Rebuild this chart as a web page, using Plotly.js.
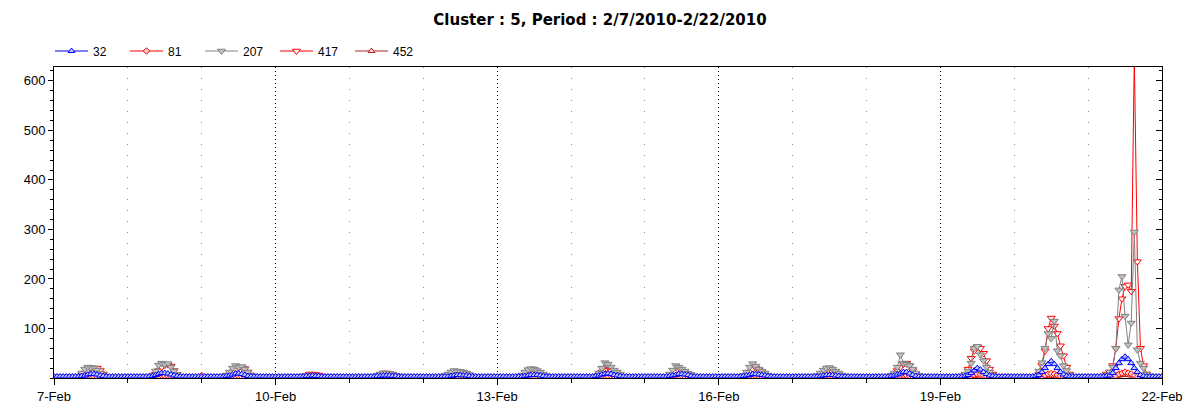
<!DOCTYPE html>
<html>
<head>
<meta charset="utf-8">
<script src="https://cdn.plot.ly/plotly-3.0.1.min.js"></script>
<style>html,body{margin:0;padding:0;background:#fff;}#chart{width:1200px;height:420px;}</style>
</head>
<body>
<div id="chart"></div>
<script>
// Hourly readings, 7-Feb-2010 00:00 through 22-Feb-2010 00:00 (one line per day)
var startDate = "2010-02-07";
var seriesNames = ["32", "81", "207", "417", "452"];

var s32 = [
3,3,3,3,3,3,3,3,3,4,5,7,8,8,7,5,4,3,3,3,3,3,3,3,
3,3,3,3,3,3,3,3,4,6,8,10,10,9,7,5,4,3,3,3,3,3,3,3,
3,3,3,3,3,3,3,3,4,5,7,9,9,8,6,4,3,3,3,3,3,3,3,3,
3,3,3,3,3,3,3,3,3,3,4,4,5,4,4,3,3,3,3,3,3,3,3,3,
3,3,3,3,3,3,3,3,3,4,4,5,5,5,4,4,3,3,3,3,3,3,3,3,
3,3,3,3,3,3,3,3,3,4,5,6,6,5,5,4,3,3,3,3,3,3,3,3,
3,3,3,3,3,3,3,3,3,4,5,6,6,6,5,4,3,3,3,3,3,3,3,3,
3,3,3,3,3,3,3,3,4,5,7,8,9,8,6,5,4,3,3,3,3,3,3,3,
3,3,3,3,3,3,3,3,4,5,6,8,8,7,6,4,3,3,3,3,3,3,3,3,
3,3,3,3,3,3,3,3,4,5,6,8,8,7,6,5,4,3,3,3,3,3,3,3,
3,3,3,3,3,3,3,3,3,4,5,6,6,6,5,4,3,3,3,3,3,3,3,3,
3,3,3,3,3,3,3,3,4,5,7,9,12,12,9,6,4,3,3,3,3,3,3,3,
3,3,3,3,3,3,3,3,4,6,10,15,20,17,12,8,5,4,3,3,3,3,3,3,
3,3,3,3,3,3,3,4,6,12,20,28,34,28,20,12,7,4,3,3,3,3,3,3,
3,3,3,3,3,3,4,5,10,20,30,38,43,38,30,20,12,6,4,3,3,3,3,3,
3];

var s81 = [
1,1,1,1,1,1,1,1,2,3,4,4,4,3,3,2,1,1,1,1,1,1,1,1,
1,1,1,1,1,1,1,1,2,3,4,5,4,4,3,2,1,1,1,1,1,1,1,1,
5,1,1,1,1,1,1,1,2,3,4,4,4,3,2,2,1,1,1,1,1,1,1,1,
1,1,1,1,1,1,1,1,1,2,2,3,3,2,2,1,1,1,1,1,1,1,1,1,
1,1,1,1,1,1,1,1,1,2,3,3,3,3,2,2,1,1,1,1,1,1,1,1,
1,1,1,1,1,1,1,1,2,3,3,4,4,3,2,2,1,1,1,1,1,1,1,1,
1,1,1,1,1,1,1,1,2,2,3,3,3,3,2,2,1,1,1,1,1,1,1,1,
1,1,1,1,1,1,1,1,2,3,4,5,4,4,3,2,1,1,1,1,1,1,1,1,
1,1,1,1,1,1,1,1,2,3,4,4,4,3,3,2,1,1,1,1,1,1,1,1,
1,1,1,1,1,1,1,1,2,3,4,5,5,4,3,2,1,1,1,1,1,1,1,1,
1,1,1,1,1,1,1,1,2,2,3,4,4,3,2,2,1,1,1,1,1,1,1,1,
1,1,1,1,1,1,1,1,2,3,4,5,6,5,4,3,2,1,1,1,1,1,1,1,
1,1,1,1,1,1,1,1,2,3,5,7,8,7,5,3,2,1,1,1,1,1,1,1,
1,1,1,1,1,1,1,1,2,4,6,8,9,8,6,4,2,1,1,1,1,1,1,1,
1,1,1,1,1,1,1,2,3,5,8,10,12,10,8,5,3,2,1,1,1,1,1,1,
1];

var s207 = [
2,2,2,2,2,2,2,2,4,10,18,22,21,20,16,10,5,3,2,2,2,2,2,2,
2,2,2,2,2,2,2,3,6,14,26,30,28,29,22,14,7,3,2,2,2,2,2,2,
2,2,2,2,2,2,2,3,6,12,20,25,22,23,18,12,6,3,2,2,2,2,2,2,
2,2,2,2,2,2,2,2,3,4,5,6,6,5,4,3,3,2,2,2,2,2,2,2,
2,2,2,2,2,2,2,2,3,5,8,10,10,9,8,6,4,3,2,2,2,2,2,2,
2,2,2,2,2,2,3,5,8,12,15,14,13,12,10,7,4,3,2,2,2,2,2,2,
2,2,2,2,2,2,2,3,6,12,17,19,18,15,12,8,5,3,2,2,2,2,2,2,
2,2,2,2,2,2,2,2,4,10,20,31,28,22,16,12,8,4,2,2,2,2,2,2,
2,2,2,2,2,2,2,3,8,16,25,22,18,14,10,7,4,2,2,2,2,2,2,2,
2,2,2,2,2,2,2,2,5,12,22,29,24,18,14,10,6,3,2,2,2,2,2,2,
2,2,2,2,2,2,2,2,5,10,16,20,21,18,14,10,6,3,2,2,2,2,2,2,
2,2,2,2,2,2,2,2,5,10,22,47,30,28,25,18,10,5,2,2,2,2,2,2,
2,2,2,2,2,2,2,3,8,14,30,60,64,47,35,22,12,6,3,2,2,2,2,2,
2,2,2,2,2,2,2,4,14,31,60,90,80,115,55,45,25,15,6,3,2,2,2,2,
2,2,2,2,2,4,6,12,22,60,178,205,125,67,111,295,57,30,20,8,4,2,2,2,
2];

var s417 = [
2,2,2,2,2,2,2,2,3,5,10,15,19,20,20,15,8,3,2,2,2,2,2,2,
2,2,2,2,2,2,2,2,4,8,15,22,26,27,24,15,7,3,2,2,2,2,2,2,
2,2,2,2,2,2,2,2,3,6,12,18,21,22,19,12,6,3,2,2,2,2,2,2,
2,2,2,2,2,2,2,2,2,3,5,8,8,7,6,4,3,2,2,2,2,2,2,2,
2,2,2,2,2,2,2,2,3,4,7,10,10,9,7,5,3,2,2,2,2,2,2,2,
2,2,2,2,2,2,2,2,3,5,8,11,12,11,8,5,3,2,2,2,2,2,2,2,
2,2,2,2,2,2,2,2,3,4,6,8,10,9,7,5,3,2,2,2,2,2,2,2,
2,2,2,2,2,2,2,2,3,6,12,18,16,14,10,6,3,2,2,2,2,2,2,2,
2,2,2,2,2,2,2,2,3,6,12,15,13,10,7,4,3,2,2,2,2,2,2,2,
2,2,2,2,2,2,2,2,3,6,12,18,20,16,11,6,3,2,2,2,2,2,2,2,
2,2,2,2,2,2,2,2,3,5,9,13,14,12,9,5,3,2,2,2,2,2,2,2,
2,2,2,2,2,2,2,2,3,6,15,22,28,30,25,15,8,4,2,2,2,2,2,2,
2,2,2,2,2,2,2,3,6,18,40,55,62,60,50,35,18,8,3,2,2,2,2,2,
2,2,2,2,2,2,2,3,8,25,55,100,121,105,90,65,45,22,8,3,2,2,2,2,
2,2,2,2,2,4,8,12,25,60,120,160,185,188,175,650,235,60,25,8,4,2,2,2,
2];

var s452 = [
1,1,1,1,1,1,1,1,1,2,2,2,2,2,2,1,1,1,1,1,1,1,1,1,
1,1,1,1,1,1,1,1,1,2,2,3,2,2,2,1,1,1,1,1,1,1,1,1,
1,1,1,1,1,1,1,1,1,2,2,2,2,2,1,1,1,1,1,1,1,1,1,1,
1,1,1,1,1,1,1,1,1,1,1,2,2,1,1,1,1,1,1,1,1,1,1,1,
1,1,1,1,1,1,1,1,1,1,2,2,2,2,1,1,1,1,1,1,1,1,1,1,
1,1,1,1,1,1,1,1,1,2,2,2,2,2,1,1,1,1,1,1,1,1,1,1,
1,1,1,1,1,1,1,1,1,1,2,2,2,2,1,1,1,1,1,1,1,1,1,1,
1,1,1,1,1,1,1,1,1,2,2,3,2,2,2,1,1,1,1,1,1,1,1,1,
1,1,1,1,1,1,1,1,1,2,2,2,2,2,1,1,1,1,1,1,1,1,1,1,
1,1,1,1,1,1,1,1,1,2,2,3,2,2,1,1,1,1,1,1,1,1,1,1,
1,1,1,1,1,1,1,1,1,1,2,2,2,2,1,1,1,1,1,1,1,1,1,1,
1,1,1,1,1,1,1,1,1,2,2,3,3,2,2,1,1,1,1,1,1,1,1,1,
1,1,1,1,1,1,1,1,2,2,3,4,4,3,2,2,1,1,1,1,1,1,1,1,
1,1,1,1,1,1,1,1,2,3,4,5,5,4,3,2,1,1,1,1,1,1,1,1,
1,1,1,1,1,1,1,2,3,4,5,6,7,6,5,3,2,1,1,1,1,1,1,1,
1];

var yTickVals = [100, 200, 300, 400, 500, 600];

// hourly time stamps
function hourlyTimes(start, n) {
  var t0 = Date.parse(start + "T00:00:00Z");
  var out = [];
  for (var i = 0; i < n; i++) {
    var d = new Date(t0 + i * 3600000);
    out.push(d.toISOString().slice(0, 16).replace("T", " "));
  }
  return out;
}
var times = hourlyTimes(startDate, s32.length);

var styles = {
  "32":  {line: "#0000ff", sym: "triangle-up",   fill: "#b8c8ff", outline: "#0000ff", size: 6},
  "81":  {line: "#ff0000", sym: "diamond",       fill: "#ffd0d0", outline: "#ff0000", size: 5},
  "207": {line: "#808080", sym: "triangle-down", fill: "#c0c0c0", outline: "#808080", size: 7},
  "417": {line: "#ff0000", sym: "triangle-down", fill: "#ffffff", outline: "#ff0000", size: 7},
  "452": {line: "#b22222", sym: "triangle-up",   fill: "#ffd8d8", outline: "#b22222", size: 6}
};
var values = {"32": s32, "81": s81, "207": s207, "417": s417, "452": s452};
var drawOrder = ["452", "417", "207", "81", "32"];

var traces = drawOrder.map(function (name) {
  var st = styles[name];
  return {
    type: "scatter", mode: "lines+markers", name: name,
    x: times, y: values[name],
    legendrank: seriesNames.indexOf(name) + 1,
    line: {color: st.line, width: 1},
    marker: {symbol: st.sym, size: st.size, color: st.fill, line: {color: st.outline, width: 1}},
    cliponaxis: true
  };
});
// right-hand axis ticks (inside) carried by an invisible companion trace
traces.push({type: "scatter", mode: "none", x: [times[0]], y: [0], yaxis: "y2", showlegend: false, hoverinfo: "skip"});

var DAY = 86400000;
var layout = {
  width: 1200, height: 420,
  margin: {l: 54, r: 38, t: 67, b: 42},
  paper_bgcolor: "#ffffff", plot_bgcolor: "#ffffff",
  font: {family: "Liberation Sans, Arial, sans-serif", size: 13, color: "#000"},
  title: {text: "<b>Cluster : 5, Period : 2/7/2010-2/22/2010</b>",
          font: {family: "DejaVu Sans, sans-serif", size: 15, color: "#000"},
          x: 0.5, xanchor: "center", y: 1 - 20 / 420, yanchor: "middle", yref: "container"},
  showlegend: true,
  legend: {orientation: "h", xref: "container", yref: "container", x: 50 / 1200, y: 1 - 51 / 420,
           xanchor: "left", yanchor: "middle", font: {size: 12}, traceorder: "normal",
           entrywidth: 27, itemwidth: 33, bgcolor: "rgba(0,0,0,0)"},
  xaxis: {
    type: "date", range: ["2010-02-07", "2010-02-22"],
    tick0: "2010-02-07", dtick: 3 * DAY, tickformat: "%-d-%b",
    ticks: "outside", ticklen: 6, tickcolor: "#000",
    showline: true, linecolor: "#000", linewidth: 1, mirror: true,
    showgrid: true, gridcolor: "#000", griddash: "1px,3px", gridwidth: 1,
    zeroline: false,
    minor: {dtick: DAY, tick0: "2010-02-07", ticks: "outside", ticklen: 4, tickcolor: "#000",
            showgrid: true, gridcolor: "#888888", griddash: "1px,10px", gridwidth: 1},
    tickfont: {size: 13}
  },
  yaxis: {
    range: [0, 628], tickvals: yTickVals, ticks: "outside", ticklen: 5, tickcolor: "#000",
    showline: true, linecolor: "#000", linewidth: 1, mirror: true,
    showgrid: false, zeroline: false,
    minor: {dtick: 20, tick0: 0, ticks: "outside", ticklen: 3, tickcolor: "#000", showgrid: false},
    tickfont: {size: 13}
  },
  yaxis2: {
    overlaying: "y", side: "right", anchor: "x", range: [0, 628],
    tickvals: yTickVals, showticklabels: false, ticks: "inside", ticklen: 6, tickcolor: "#000",
    showgrid: false, zeroline: false, showline: false,
    minor: {dtick: 20, tick0: 0, ticks: "inside", ticklen: 3, tickcolor: "#000", showgrid: false}
  }
};

Plotly.newPlot("chart", traces, layout, {displayModeBar: false, staticPlot: true});
</script>
</body>
</html>
